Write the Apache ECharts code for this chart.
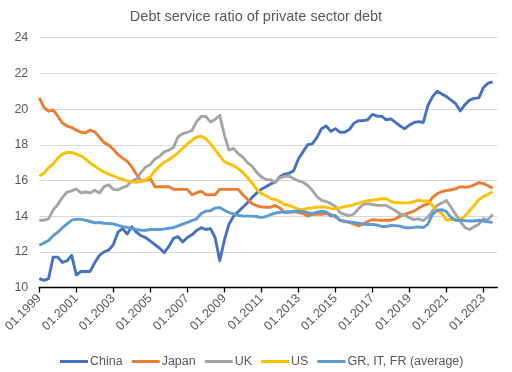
<!DOCTYPE html>
<html>
<head>
<meta charset="utf-8">
<script src="https://cdn.jsdelivr.net/npm/echarts@6/dist/echarts.min.js"></script>
<style>html,body{margin:0;padding:0;background:#fff}#c{width:512px;height:372px}</style>
</head>
<body>
<div id="c"></div>
<script>
const years = [1999,2000,2001,2002,2003,2004,2005,2006,2007,2008,2009,2010,2011,2012,2013,2014,2015,2016,2017,2018,2019,2020,2021,2022,2023];
const months = ['01','04','07','10'];
const categories = [];
years.forEach(y => months.forEach(m => categories.push(m + '.' + y)));

const china = [10.5,10.4,10.5,11.7,11.7,11.4,11.5,11.8,10.7,10.9,10.9,10.9,11.4,11.8,12.0,12.1,12.4,13.1,13.3,13.0,13.4,13.1,12.9,12.8,12.6,12.4,12.2,11.95,12.3,12.75,12.85,12.55,12.8,12.95,13.2,13.35,13.25,13.3,12.8,11.5,12.65,13.55,14.0,14.25,14.5,14.75,15.05,15.3,15.5,15.65,15.8,15.9,16.2,16.35,16.4,16.55,17.2,17.6,18.0,18.05,18.4,18.9,19.05,18.75,18.9,18.7,18.7,18.85,19.2,19.35,19.35,19.4,19.7,19.6,19.6,19.4,19.45,19.25,19.05,18.9,19.1,19.25,19.3,19.25,20.2,20.7,21.0,20.85,20.7,20.5,20.3,19.9,20.25,20.5,20.6,20.63,21.2,21.45,21.52];
const japan = [20.63,20.1,19.88,19.95,19.6,19.22,19.05,18.97,18.82,18.7,18.67,18.82,18.72,18.42,18.12,17.98,17.75,17.45,17.25,17.08,16.75,16.35,15.95,16.0,16.1,15.65,15.65,15.65,15.65,15.5,15.5,15.5,15.5,15.2,15.3,15.4,15.2,15.2,15.2,15.5,15.5,15.5,15.5,15.5,15.2,14.95,14.7,14.58,14.52,14.5,14.5,14.6,14.45,14.2,14.2,14.25,14.2,14.15,14.0,14.1,14.1,14.1,14.15,14.1,13.95,13.78,13.7,13.65,13.55,13.45,13.55,13.7,13.8,13.78,13.77,13.77,13.77,13.85,14.0,14.1,14.2,14.28,14.45,14.6,14.68,15.05,15.25,15.38,15.43,15.48,15.53,15.65,15.62,15.65,15.75,15.88,15.82,15.7,15.56];
const uk = [13.77,13.77,13.85,14.35,14.65,15.05,15.35,15.42,15.52,15.3,15.35,15.3,15.45,15.3,15.65,15.75,15.5,15.48,15.6,15.7,15.97,16.08,16.45,16.75,16.9,17.2,17.35,17.6,17.7,17.85,18.45,18.62,18.7,18.8,19.3,19.58,19.58,19.28,19.42,19.65,18.55,17.7,17.8,17.5,17.3,17.0,16.8,16.45,16.2,16.05,16.04,15.88,16.15,16.23,16.25,16.1,15.98,15.9,15.72,15.45,15.1,14.88,14.82,14.7,14.55,14.2,14.1,14.02,14.12,14.42,14.65,14.7,14.65,14.6,14.6,14.6,14.45,14.3,14.12,14.07,13.9,13.8,13.85,13.75,13.95,14.3,14.6,14.74,14.87,14.5,14.1,13.7,13.35,13.25,13.4,13.55,13.85,13.8,14.1];
const us = [16.25,16.4,16.72,16.92,17.25,17.47,17.57,17.57,17.47,17.38,17.2,16.98,16.8,16.62,16.47,16.35,16.25,16.15,16.06,15.98,15.92,15.9,15.96,16.05,16.2,16.55,16.8,17.02,17.16,17.35,17.55,17.8,18.05,18.25,18.43,18.48,18.34,18.05,17.72,17.38,17.05,16.93,16.83,16.65,16.45,16.15,15.85,15.5,15.25,15.15,14.98,14.93,14.82,14.65,14.6,14.5,14.38,14.38,14.43,14.46,14.5,14.51,14.51,14.43,14.42,14.47,14.53,14.58,14.65,14.73,14.8,14.86,14.9,14.93,14.98,14.97,14.82,14.76,14.74,14.74,14.74,14.82,14.89,14.85,14.85,14.6,14.32,14.16,13.78,13.82,13.8,13.8,14.0,14.3,14.6,14.92,15.1,15.22,15.38];
const grItFr = [12.37,12.5,12.63,12.9,13.1,13.35,13.57,13.78,13.83,13.82,13.77,13.7,13.63,13.64,13.6,13.59,13.56,13.48,13.42,13.37,13.3,13.25,13.21,13.21,13.25,13.25,13.25,13.28,13.32,13.36,13.45,13.55,13.65,13.75,13.85,14.15,14.28,14.3,14.45,14.48,14.33,14.2,14.12,14.05,14.0,14.0,14.0,13.98,13.92,13.98,14.08,14.17,14.22,14.23,14.25,14.27,14.27,14.26,14.2,14.14,14.23,14.27,14.24,14.0,14.04,13.77,13.7,13.68,13.65,13.6,13.56,13.53,13.53,13.5,13.42,13.42,13.48,13.47,13.44,13.35,13.35,13.37,13.4,13.36,13.55,14.1,14.33,14.36,14.25,13.92,13.77,13.77,13.75,13.73,13.73,13.77,13.72,13.68,13.65];

const seriesNames = ['China','Japan','UK','US','GR, IT, FR (average)'];
const seriesData = [china, japan, uk, us, grItFr];
const colors = ['#4472C4','#ED7D31','#A5A5A5','#FFC000','#5B9BD5'];
const yTicks = [10,12,14,16,18,20,22,24];

const FONT = 'Liberation Sans';
const chart = echarts.init(document.getElementById('c'), null, {renderer:'canvas'});
chart.setOption({
  animation: false,
  color: colors,
  title: {
    text: 'Debt service ratio of private sector debt',
    left: 'center', top: 4,
    textStyle: {color:'#595959', fontSize:14.5, fontWeight:'normal', fontFamily: FONT}
  },
  grid: {left: 39.3, right: 14.7, top: 37.7, bottom: 84.5, containLabel: false},
  legend: {
    top: 355, left: 60, padding: 0,
    itemWidth: 28, itemHeight: 3, itemGap: 9,
    textStyle: {color:'#595959', fontSize:12.5, fontFamily: FONT, padding: [0,0,0,-3]},
    data: seriesNames.map(n => ({name: n, icon: 'rect'}))
  },
  xAxis: {
    type: 'category', boundaryGap: false, data: categories,
    axisLine: {lineStyle: {color:'#000', width: 1.3}},
    axisTick: {interval: 7, length: 5, lineStyle: {color:'#000', width: 1.3}},
    axisLabel: {interval: 7, rotate: 45, color:'#595959', fontSize: 12.5, fontFamily: FONT, margin: 9},
    splitLine: {show: false}
  },
  yAxis: {
    type: 'value', min: yTicks[0], max: yTicks[yTicks.length-1], interval: 2,
    axisLine: {show: false}, axisTick: {show: false},
    axisLabel: {color:'#595959', fontSize: 12.5, fontFamily: FONT, margin: 11},
    splitLine: {lineStyle: {color:'#D9D9D9', width: 1}}
  },
  series: seriesNames.map((n, k) => ({
    name: n, type: 'line', data: seriesData[k], symbol: 'none',
    lineStyle: {width: 2.9, color: colors[k], join: 'round'},
    itemStyle: {color: colors[k]}
  }))
});
</script>
</body>
</html>
